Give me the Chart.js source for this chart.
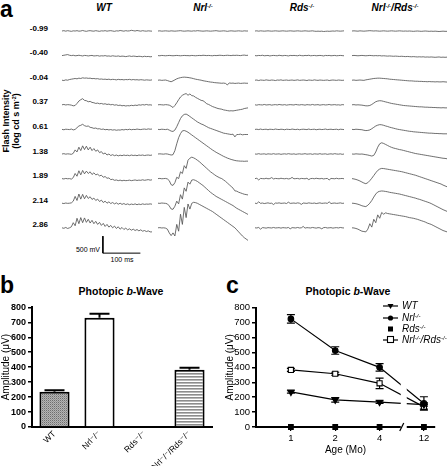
<!DOCTYPE html>
<html><head><meta charset="utf-8">
<script src="https://cdn.jsdelivr.net/npm/chart.js@4.4.1/dist/chart.umd.min.js"></script>
<style>
html,body{margin:0;padding:0;background:#fff;}
#fig{position:relative;width:448px;height:466px;overflow:hidden;font-family:'Liberation Sans',Arial,Helvetica,sans-serif;color:#000;}
.abs{position:absolute;white-space:nowrap;line-height:1;}
canvas{position:absolute;}
sup{font-size:0.6em;position:relative;top:-0.55em;line-height:0;vertical-align:baseline;}
.cen{transform:translate(-50%,-50%);}
.rowlab{font-weight:bold;font-size:8px;transform:translate(-100%,-50%);}
.hdr{font-weight:bold;font-style:italic;font-size:10px;}
.letter{font-weight:bold;font-size:23px;}
.ttl{font-weight:bold;font-size:10.5px;}
.leg{font-style:italic;font-size:10px;transform:translateY(-50%);z-index:5;}
#legsym{z-index:5;}
</style>
</head><body>
<div id="fig">
  <div class="abs letter" style="left:0;top:-2px;">a</div>
  <div class="abs hdr cen" style="left:104px;top:8px;">WT</div>
  <div class="abs hdr cen" style="left:203px;top:8px;">Nrl<sup>-/-</sup></div>
  <div class="abs hdr cen" style="left:302px;top:8px;">Rds<sup>-/-</sup></div>
  <div class="abs hdr cen" style="left:395px;top:8px;">Nrl<sup>-/-</sup>/Rds<sup>-/-</sup></div>
  <div class="abs" style="left:11px;top:121px;transform:translate(-50%,-50%) rotate(-90deg);font-weight:bold;font-size:9px;line-height:10px;text-align:center;">Flash Intensity<br>(log cd s m<sup>-2</sup>)</div>
  <div class="abs" style="left:100px;top:249px;transform:translate(-100%,-50%);font-size:7px;">500 mV</div>
  <div class="abs cen" style="left:122px;top:259px;font-size:7px;">100 ms</div>

  <div class="abs letter" style="left:0;top:274px;">b</div>
  <div class="abs ttl cen" style="left:121px;top:291px;">Photopic <i>b</i>-Wave</div>
  <div class="abs letter" style="left:226px;top:274px;">c</div>
  <div class="abs ttl cen" style="left:348px;top:291px;">Photopic <i>b</i>-Wave</div>

  <svg id="legsym" class="abs" style="left:381px;top:301px;" width="20" height="44">
    <line x1="2" y1="5" x2="17" y2="5" stroke="#000" stroke-width="1.2"/>
    <polygon points="6.5,3 12.5,3 9.5,8" fill="#000"/>
    <line x1="2" y1="17" x2="17" y2="17" stroke="#000" stroke-width="1.2"/>
    <circle cx="9.5" cy="17" r="2.6" fill="#000"/>
    <rect x="7" y="25.5" width="5" height="5" fill="#000"/>
    <line x1="2" y1="39" x2="17" y2="39" stroke="#000" stroke-width="1.2"/>
    <rect x="6.5" y="35.5" width="6" height="6" fill="#fff" stroke="#000" stroke-width="1.1"/>
  </svg>
  <div class="abs leg" style="left:402px;top:306px;">WT</div>
  <div class="abs leg" style="left:402px;top:318px;">Nrl<sup>-/-</sup></div>
  <div class="abs leg" style="left:402px;top:329px;">Rds<sup>-/-</sup></div>
  <div class="abs leg" style="left:402px;top:340px;">Nrl<sup>-/-</sup>/Rds<sup>-/-</sup></div>
</div>
<script>
// ---------------- DATA ----------------
const FLASH_INTENSITIES = ['-0.99','-0.40','-0.04','0.37','0.61','1.38','1.89','2.14','2.86'];
const TRACE_STEP_MS = 5; // each trace: 49 samples, 0..240 ms, values in µV

const WT_TRACES = [
 [0,10,-5,10,0,-10,5, 0,10,-5,0,15,0,-10, 5,10,0,-5,10,0,-10, 5,0,10,-5,5,10,0, -10,5,0,15,5,-5,10, 0,5,20,10,0,15,5, -5,10,0,-5,5,0,-5],
 [0,10,20,30,10,0,10, -5,0,10,0,-10,5,0, -10,0,5,-10,-5,0,-15, -5,-10,0,-15,-10,-20,-5, -15,-20,-10,-25,-15,-20,-30, -20,-10,-25,-15,-20,-30,-20, -25,-35,-20,-30,-25,-35,-30],
 [0,-10,10,0,20,30,40, 50,40,60,50,70,60,65, 55,60,45,50,40,45,30, 35,25,30,20,30,15,25, 20,10,25,15,20,10,20, 15,25,10,20,10,15,5, 15,10,0,10,5,0,10],
 [0,10,-5,5,0,-10,-30, -20,40,110,150,180,130,120, 90,100,70,60,40,50,30, 40,20,30,10,20,0,10, -10,0,-20,-10,-30,-20,-35, -25,-30,-15,-25,-10,-20,0, -10,5,-5,10,-5,0,-10],
 [0,-10,5,0,-5,10,-15, 0,50,100,120,150,110,90, 100,60,50,30,40,15,20, 0,10,-10,0,-15,-5,-20, -10,-25,-15,-20,-5,-15,0, -10,5,-10,0,-5,10,0, -5,5,10,0,15,5,10],
 [0,10,-5,5,0,-10,20, 120,60,200,100,240,130,230, 120,200,100,160,80,120,40, 70,0,30,-30,0,-45,-20, -50,-30,-55,-35,-50,-30,-45, -35,-50,-30,-45,-35,-50,-30, -40,-30,-45,-35,-30,-40,-30],
 [0,-10,5,-5,0,-15,30, 150,70,230,110,240,140,220, 150,200,120,170,110,130,80, 100,40,60,10,20,-30,-20, -50,-40,-60,-45,-65,-50,-60, -55,-45,-60,-50,-40,-55,-45, -50,-35,-50,-40,-30,-45,-35],
 [0,-10,5,-5,0,10,60, 200,80,270,120,260,130,230, 140,190,110,150,80,120,50, 90,20,60,0,40,-10,20, -20,10,-30,0,-35,-10,-40, -20,-45,-25,-40,-20,-45,-25, -40,-20,-35,-25,-30,-20,-30],
 [0,-15,10,-20,0,30,150, 60,280,120,300,150,290,160, 250,140,220,120,190,100,160, 70,130,40,100,20,70,0, 50,-20,30,-40,10,-50,-10, -60,-30,-70,-40,-80,-50,-90, -60,-100,-80,-110,-90,-120,-120]
];
const NRL_TRACES = [
 [0,5,-5,0,5,0,-5, 5,0,-5,0,5,10,0, -5,0,5,0,-5,5,0, 10,5,0,-5,0,5,0, -5,0,5,10,0,-5,0, 5,0,-10,0,5,0,-5, 0,5,0,-5,5,0,0],
 [0,-5,5,0,-5,0,5, 0,-5,0,5,0,-5,0, 5,0,0,-5,5,0,-5, 0,5,0,10,5,0,5, 0,-5,5,0,5,10,5, 0,5,10,5,0,10,5, 10,5,0,10,15,5,10],
 [0,5,-5,0,5,-10,-30, -45,-20,10,40,60,75,85, 90,85,80,70,60,45,30, 20,10,0,-15,-25,-35,-45, -55,-60,-70,-75,-80,-85,-90, -85,-95,-140,-80,-90,-85,-95, -90,-85,-95,-90,-85,-90,-90],
 [0,5,0,-5,5,0,-10, -40,-80,-20,60,150,230,280, 310,330,280,320,270,260,220, 190,160,130,120,80,30,10, -20,-50,-70,-90,-110,-120,-130, -150,-160,-170,-180,-175,-180,-170, -160,-150,-140,-130,-110,-100,-90],
 [0,-5,5,0,-5,5,-20, -50,-60,-20,80,200,320,400, 440,450,420,380,340,300,260, 220,190,160,140,110,80,50, 30,10,-10,-30,-50,-70,-90, -110,-120,-130,-140,-150,-140,-220, -150,-150,-140,-160,-150,-150,-150],
 [0,5,0,-5,5,0,-15, -30,-20,100,300,480,600,680, 690,670,640,600,560,520,480, 440,400,360,320,280,240,200, 160,120,85,50,20,-10,-40, -70,-95,-120,-140,-160,-175,-190, -200,-205,-210,-210,-215,-210,-210],
 [0,5,-5,0,5,-10,-60, -180,-200,-120,40,0,200,150, 380,300,540,600,630,610,580, 540,500,450,400,350,300,250, 200,160,120,80,50,20,0, -40,-80,-130,-180,-230,-280,-360, -370,-400,-420,-440,-460,-470,-480],
 [0,-5,5,0,-5,-20,-80, -170,-180,-90,60,-20,250,120, 450,350,620,560,680,690,670, 640,600,560,520,470,420,370, 320,280,240,200,170,140,110, 80,50,20,-10,-40,-70,-110, -150,-180,-210,-240,-270,-300,-330],
 [0,5,-5,0,-10,-40,-150, -230,-150,-240,100,-100,400,100, 600,300,700,550,720,750,740, 720,690,660,630,600,570,540, 510,480,440,400,360,320,280, 240,200,160,120,80,40,0, -60,-120,-180,-240,-290,-330,-370]
];
const RDS_TRACES = [
 [0,5,-5,5,0,-5,0, 5,0,-5,0,5,0,-5, 0,5,0,-5,0,5,0, -5,0,5,0,-5,0,5, 0,-5,0,5,-5,-10,-5, -10,-5,-15,-10,-5,-10,-5, 0,-5,5,0,-5,0,5],
 [0,-5,5,0,10,-5,0, 5,-10,0,5,0,-5,10, 0,-5,5,0,-10,5,0, 5,0,-5,10,0,-5,5, 0,10,-5,0,5,-5,0, 5,0,-10,5,0,5,-5, 0,5,-5,0,5,0,-5],
 [0,5,-10,5,0,-5,10, 0,-5,5,0,-10,5,0, 10,-5,0,5,-5,0,5, -5,0,10,-5,0,5,0, -10,5,0,-5,10,0,-5, 5,0,-5,0,5,-10,0, 5,0,-5,5,0,-5,0],
 [0,-10,5,0,-5,10,-5, 0,5,-10,0,5,-5,10, 0,-5,5,-10,0,5,0, -5,10,0,-5,5,0,-10, 5,0,-5,10,-5,0,5, -10,0,5,-5,0,10,-5, 0,5,-5,0,-10,5,0],
 [0,5,-5,10,-5,0,5, -10,5,0,-5,10,0,-5, 5,0,-10,5,0,-5,10, 0,-5,5,-10,0,5,0, -5,10,-5,0,5,-10,0, 5,-5,0,10,-5,0,5, -5,0,5,-10,5,0,-5],
 [0,-5,10,-5,0,5,-10, 5,0,-5,10,-5,0,5, -10,0,5,-5,10,0,-5, 5,-10,0,5,-5,0,10, -5,0,5,-10,5,0,-5, 10,-5,0,5,-10,0,5, -5,10,0,-5,5,-10,0],
 [0,10,-40,5,0,-5,10, -5,0,30,-10,5,0,-5, 10,0,-5,5,-10,0,35, -5,0,5,-10,5,0,-5, 10,-30,0,5,-5,10,0, -5,5,-10,0,5,-40,5, 0,-5,10,-5,0,5,-5],
 [0,-10,40,-5,5,-10,0, 10,-5,0,-40,5,0,10, -5,0,5,-10,30,-5,0, 5,-5,10,0,-35,5,0, -5,10,0,-5,5,-10,0, 10,-5,0,5,-5,40,-10, 0,5,-5,0,10,-5,0],
 [0,-5,10,-40,5,0,-10, 5,0,-5,10,-5,0,5, -10,5,0,-5,10,-30,5, 0,-5,10,-5,0,40,-10, 5,0,-5,10,0,-10,5, 0,-30,5,10,-5,0,5, -10,0,5,-5,10,0,-5]
];
const NRLRDS_TRACES = [
 [0,5,0,-5,5,0,-5, 0,5,10,5,0,5,0, -5,0,5,0,-5,0,5, 0,-5,0,5,0,-5,0, -5,0,-5,-10,-5,0,-5, -10,-5,0,-5,-10,-5,-10, -5,-10,-15,-10,-5,-10,-10],
 [0,5,0,-5,0,5,0, -5,0,5,0,-5,0,-5, 0,-10,-5,-10,-15,-10,-15, -20,-15,-20,-25,-20,-25,-30, -25,-30,-35,-30,-35,-40,-35, -40,-35,-45,-40,-45,-40,-45, -50,-45,-40,-50,-45,-50,-45],
 [0,5,-5,0,5,0,-5, 10,20,30,40,50,55,60, 60,55,50,45,40,30,25, 20,15,10,5,0,-5,-10, -15,-20,-20,-25,-30,-30,-35, -35,-40,-40,-45,-40,-45,-45, -50,-45,-50,-50,-45,-50,-55],
 [0,5,-5,0,-5,-10,-20, -30,-30,-20,10,50,90,110, 120,115,100,85,70,55,40, 30,20,10,0,-10,-20,-25, -30,-35,-40,-45,-50,-55,-60, -60,-65,-70,-70,-75,-75,-80, -80,-85,-85,-90,-85,-90,-90],
 [0,-5,5,0,-5,-10,-25, -35,-30,-15,20,60,100,125, 140,135,120,100,85,65,50, 35,20,5,-5,-15,-25,-35, -45,-55,-60,-70,-75,-80,-85, -90,-95,-100,-105,-110,-110,-115, -120,-120,-125,-125,-130,-130,-130],
 [0,-5,5,0,-5,0,-10, -20,-30,-45,-60,-40,60,200, 300,330,310,280,250,220,195, 175,160,145,130,120,105,90, 75,60,45,30,15,5,-5, -15,-25,-35,-45,-55,-65,-75, -85,-95,-105,-115,-125,-130,-140],
 [0,-10,-25,-45,-70,-100,-130, -150,-120,-60,10,90,170,240, 280,300,295,285,275,265,255, 245,235,225,215,205,190,175, 160,145,130,115,100,80,60, 40,20,0,-20,-40,-60,-80, -100,-120,-140,-160,-190,-215,-240],
 [0,-5,-15,-30,-50,-75,-90, -100,-60,0,80,180,270,330, 350,360,355,345,335,320,310, 300,290,280,270,255,240,225, 210,195,180,165,150,130,115, 95,75,55,35,15,-10,-40, -70,-100,-130,-160,-190,-215,-240],
 [0,-5,-20,-40,-70,-100,-110, -120,-40,120,20,250,150,380, 280,450,400,440,420,410,400, 390,380,370,360,350,340,330, 315,300,290,280,265,250,230, 210,190,170,140,120,100,70, 40,10,-20,-50,-80,-100,-120]
];
const SCALE_BAR_UV = 500;
const SCALE_BAR_MS = 100;

const GENOTYPES = ['WT','Nrl\u207B/\u207B','Rds\u207B/\u207B','Nrl\u207B/\u207B/Rds\u207B/\u207B'];
const B_MEAN = [235, 730, 0, 383];
const B_SEM  = [10, 28, 0, 14];

const AGE_LABELS = ['1','2','4','12'];
const AGE_POS = [1,2,3,4];
const C_WT     = [235, 182, 167, 150];
const C_WT_ERR = [8, 15, 8, 10];
const C_NRL     = [725, 513, 400, 158];
const C_NRL_ERR = [28, 25, 25, 45];
const C_RDS     = [0, 0, 0, 0];
const C_NR      = [383, 357, 293, 135];
const C_NR_ERR  = [10, 10, 35, 15];

// ---------------- LAYOUT / RENDER ----------------
Chart.defaults.font.family = "'Liberation Sans', 'DejaVu Sans', Arial, sans-serif";
Chart.defaults.color = '#000';
Chart.defaults.animation = false;

const fig = document.getElementById('fig');
function mkCanvas(left, top, w, h){
  const c = document.createElement('canvas');
  c.width = w; c.height = h;
  c.style.left = left + 'px'; c.style.top = top + 'px';
  c.style.width = w + 'px'; c.style.height = h + 'px';
  c.style.zIndex = '1';
  fig.appendChild(c);
  return c;
}

// Panel a
const UV_PER_PX = 29.4, ROW0_Y = 31, ROW_PX = 24.6, A_TOP = 16, A_H = 244;
const ROW_GAP_UV = ROW_PX * UV_PER_PX;
const Y_MAX = (ROW0_Y - A_TOP) * UV_PER_PX;
const Y_MIN = Y_MAX - A_H * UV_PER_PX;

FLASH_INTENSITIES.forEach((lab, i) => {
  const d = document.createElement('div');
  d.className = 'abs rowlab';
  d.style.left = '48px';
  d.style.top = (ROW0_Y + ROW_PX * i - 2.5) + 'px';
  d.textContent = lab;
  fig.appendChild(d);
});

const COLUMNS = [
  {traces: WT_TRACES, left: 62, width: 90, bar: true},
  {traces: NRL_TRACES, left: 158, width: 90},
  {traces: RDS_TRACES, left: 255, width: 89},
  {traces: NRLRDS_TRACES, left: 352, width: 95}
];
COLUMNS.forEach(col => {
  const cv = mkCanvas(col.left, A_TOP, col.width, A_H);
  const datasets = col.traces.map((vals, row) => ({
    data: vals.map((v, k) => ({x: k * TRACE_STEP_MS, y: v - row * ROW_GAP_UV})),
    borderColor: '#555555', borderWidth: 0.85, pointRadius: 0, tension: 0, clip: false
  }));
  if (col.bar) {
    const t0 = 109, y0 = -(FLASH_INTENSITIES.length - 1) * ROW_GAP_UV - 745;
    datasets.push({
      data: [{x: t0, y: y0 + SCALE_BAR_UV}, {x: t0, y: y0}, {x: t0 + SCALE_BAR_MS, y: y0}],
      borderColor: '#000', borderWidth: 1, pointRadius: 0, tension: 0, clip: false
    });
  }
  new Chart(cv, {
    type: 'line',
    data: {datasets},
    options: {
      responsive: false, devicePixelRatio: 1, events: [],
      layout: {padding: 0},
      plugins: {legend: {display: false}, tooltip: {enabled: false}},
      scales: {
        x: {type: 'linear', display: false, min: 0, max: 240},
        y: {type: 'linear', display: false, min: Y_MIN, max: Y_MAX}
      }
    }
  });
});

// Panel b
const cvB = mkCanvas(0, 300, 220, 166);
const ctxB = cvB.getContext('2d');
function tile(w, h, draw){ const c = document.createElement('canvas'); c.width = w; c.height = h; draw(c.getContext('2d')); return ctxB.createPattern(c, 'repeat'); }
const patDots = tile(2, 2, g => { g.fillStyle = '#b4b4b4'; g.fillRect(0,0,2,2); g.fillStyle = '#6e6e6e'; g.fillRect(0,0,1,1); g.fillStyle = '#959595'; g.fillRect(1,1,1,1); });
const patStripes = tile(1, 3, g => { g.fillStyle = '#ffffff'; g.fillRect(0,0,1,3); g.fillStyle = '#8c8c8c'; g.fillRect(0,1,1,1); g.fillStyle = '#b8b8b8'; g.fillRect(0,2,1,1); });

const errBPlugin = {
  id: 'errB',
  afterDatasetsDraw(chart) {
    const ctx = chart.ctx, meta = chart.getDatasetMeta(0), ys = chart.scales.y;
    ctx.save(); ctx.strokeStyle = '#000'; ctx.lineWidth = 2;
    meta.data.forEach((el, i) => {
      if (!B_SEM[i]) return;
      const yTop = ys.getPixelForValue(B_MEAN[i] + B_SEM[i]);
      ctx.beginPath();
      ctx.moveTo(el.x, el.y); ctx.lineTo(el.x, yTop);
      ctx.moveTo(el.x - 10, yTop); ctx.lineTo(el.x + 10, yTop);
      ctx.stroke();
    });
    ctx.restore();
  }
};
new Chart(cvB, {
  type: 'bar',
  data: {labels: GENOTYPES, datasets: [{
    data: B_MEAN,
    backgroundColor: [patDots, '#ffffff', '#ffffff', patStripes],
    borderColor: '#000', borderWidth: 2,
    barPercentage: 0.67, categoryPercentage: 1
  }]},
  options: {
    responsive: false, devicePixelRatio: 1, events: [],
    layout: {padding: {top: 7, right: 8, left: 0, bottom: 0}},
    plugins: {legend: {display: false}, tooltip: {enabled: false}},
    scales: {
      x: {
        offset: true,
        grid: {display: true, drawOnChartArea: false, drawTicks: false},
        border: {display: true, color: '#000', width: 2},
        ticks: {autoSkip: false, minRotation: 45, maxRotation: 45, padding: 2, font: {size: 8.5}, color: '#000'},
        afterFit(s) { s.height = 39; }
      },
      y: {
        min: 0, max: 800,
        ticks: {stepSize: 100, padding: 2, font: {size: 9, weight: 'bold'}, color: '#000'},
        grid: {drawOnChartArea: false, tickLength: 4, color: '#000', lineWidth: 1.5},
        border: {display: true, color: '#000', width: 2},
        title: {display: true, text: 'Amplitude (\u03BCV)', font: {size: 10}, padding: 0, color: '#000'},
        afterFit(s) { s.width = 32; }
      }
    }
  },
  plugins: [errBPlugin]
});

// Panel c
const cvC = mkCanvas(224, 300, 224, 166);
const SERIES_C = [
  {vals: C_WT, err: C_WT_ERR, style: 'triangle', rot: 180, r: 3.6, fill: '#000', line: true},
  {vals: C_NRL, err: C_NRL_ERR, style: 'circle', rot: 0, r: 2.8, fill: '#000', line: true},
  {vals: C_RDS, err: null, style: 'rect', rot: 0, r: 3.3, fill: '#000', line: false},
  {vals: C_NR, err: C_NR_ERR, style: 'rect', rot: 0, r: 3.6, fill: '#fff', line: true}
];
const errCPlugin = {
  id: 'errC',
  beforeDatasetsDraw(chart) {
    const ctx = chart.ctx, xs = chart.scales.x, ys = chart.scales.y;
    ctx.save(); ctx.strokeStyle = '#000'; ctx.lineWidth = 1.2;
    SERIES_C.forEach(s => {
      if (!s.err) return;
      s.vals.forEach((v, i) => {
        const x = xs.getPixelForValue(AGE_POS[i]);
        const y1 = ys.getPixelForValue(v + s.err[i]), y2 = ys.getPixelForValue(v - s.err[i]);
        ctx.beginPath();
        ctx.moveTo(x, y1); ctx.lineTo(x, y2);
        ctx.moveTo(x - 4, y1); ctx.lineTo(x + 4, y1);
        ctx.moveTo(x - 4, y2); ctx.lineTo(x + 4, y2);
        ctx.stroke();
      });
    });
    ctx.restore();
  }
};
const breakPlugin = {
  id: 'axisBreak',
  afterDraw(chart) {
    const ctx = chart.ctx, xs = chart.scales.x, area = chart.chartArea;
    const xb = xs.getPixelForValue(3.5);
    ctx.save();
    ctx.fillStyle = '#fff';
    ctx.fillRect(xb - 1, area.top + 50, 6, area.bottom - area.top - 48);
    ctx.strokeStyle = '#000'; ctx.lineWidth = 1.2;
    ctx.beginPath(); ctx.moveTo(xb - 2, area.bottom + 4); ctx.lineTo(xb + 2, area.bottom - 4); ctx.stroke();
    ctx.restore();
  }
};
new Chart(cvC, {
  type: 'scatter',
  data: {datasets: SERIES_C.map(s => ({
    data: s.vals.map((v, i) => ({x: AGE_POS[i], y: v})),
    showLine: s.line, borderColor: '#000', borderWidth: 1.2,
    pointStyle: s.style, pointRotation: s.rot, pointRadius: s.r,
    pointBackgroundColor: s.fill, pointBorderColor: '#000', pointBorderWidth: 1.1,
    tension: 0, clip: false
  }))},
  options: {
    responsive: false, devicePixelRatio: 1, events: [],
    layout: {padding: {top: 7, right: 13, left: 0, bottom: 10}},
    plugins: {legend: {display: false}, tooltip: {enabled: false}},
    scales: {
      x: {
        type: 'linear', min: 0.213, max: 4.25,
        afterBuildTicks(s) { s.ticks = AGE_POS.map(v => ({value: v})); },
        ticks: {callback: v => AGE_LABELS[AGE_POS.indexOf(v)], padding: 2, font: {size: 9.5}, color: '#000', maxRotation: 0},
        grid: {drawOnChartArea: false, tickLength: 4, color: '#000', lineWidth: 1.2},
        border: {display: true, color: '#000', width: 2},
        title: {display: true, text: 'Age (Mo)', font: {size: 10}, padding: 0, color: '#000'},
        afterFit(s) { s.height = 29; }
      },
      y: {
        min: 0, max: 800,
        ticks: {stepSize: 100, padding: 2, font: {size: 9.5}, color: '#000'},
        grid: {drawOnChartArea: false, tickLength: 4, color: '#000', lineWidth: 1.5},
        border: {display: true, color: '#000', width: 2},
        title: {display: true, text: 'Amplitude (\u03BCV)', font: {size: 10}, padding: 0, color: '#000'},
        afterFit(s) { s.width = 32; }
      }
    }
  },
  plugins: [errCPlugin, breakPlugin]
});
</script>
</body></html>
